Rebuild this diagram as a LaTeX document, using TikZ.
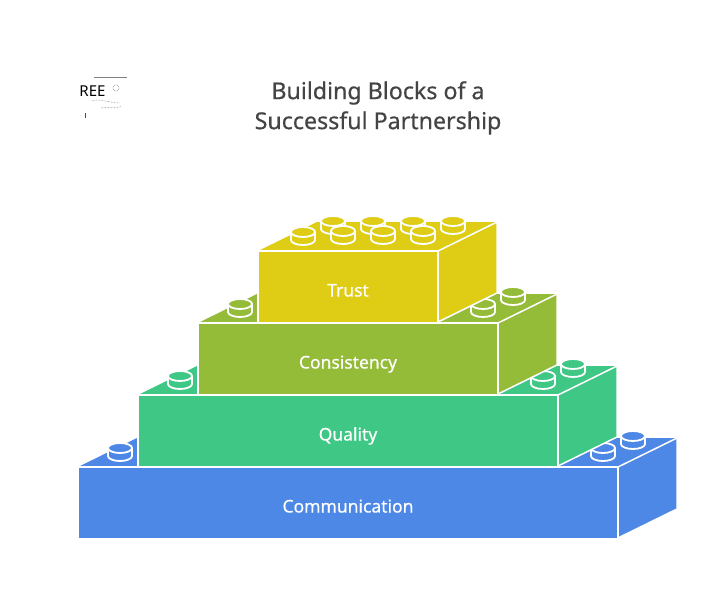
\documentclass[tikz,border=0pt]{standalone}
\usepackage{fontspec}
\setmainfont{Noto Sans}
\newfontfamily\heavyfont[FakeBold=0.5]{Noto Sans}
\usepackage{xcolor}
\definecolor{commblue}{HTML}{4E88E7}
\definecolor{qualgreen}{HTML}{3EC785}
\definecolor{consolive}{HTML}{94BC39}
\definecolor{trustyellow}{HTML}{DFCC14}
\definecolor{titlegrey}{HTML}{444444}
\tikzset{
 blockface/.style={draw=white, line width=1.5pt, line join=miter},
 studbody/.style={draw=white, line width=1.8pt},
 blocklabel/.style={text=white, anchor=base, font=\heavyfont\fontsize{17.5}{20}\selectfont},
}
% one stud: colour, x, y of the centre of its top
\newcommand{\studat}[3]{
 \draw[studbody, fill=#1] (#2-12,#3) -- ++(0,8) arc[start angle=180, end angle=0, x radius=12, y radius=5] -- ++(0,-8);
 \draw[studbody, fill=#1] (#2,#3) ellipse[x radius=12, y radius=5];
}
\begin{document}
\begin{tikzpicture}[x=1pt,y=-1pt]
\useasboundingbox (0,0) rectangle (702,597);
% blocks from the bottom up: name, colour, left, right, top, text
\foreach \nm/\col/\xa/\xb/\ya/\txt/\studs in {
 comm/commblue/78/618/467/Communication/{120/448,633/436,603/448},
 qual/qualgreen/138/558/395/Quality/{180/376,573/364,543/376},
 cons/consolive/198/498/323/Consistency/{240/304,513/292,483/304},
 trust/trustyellow/258/438/251/Trust/{333/221,373/221,413/221,453/221,303/232,343/231,383/231,423/231}} {
 \fill[\col] (\xa,\ya) --++(59,-29) -- (\xb+59,\ya-29) -- (\xb,\ya) -- cycle;
 \foreach \sx/\sy in \studs {
  \studat{\col}{\sx}{\sy}
 }
 \draw[blockface, fill=\col] (\xb,\ya) --++(59,-29) --++(0,71) --++(-59,29) -- cycle;
 \draw[blockface, fill=\col] (\xa,\ya) rectangle (\xb,\ya+71.5);
 \node[blocklabel] (\nm) at ({(\xa+\xb)/2+0},\ya+45.5) {\txt};
}
\node[text=titlegrey, align=center, font=\heavyfont\fontsize{23.2}{30}\selectfont] (title) at (378,108) {Building Blocks of a\\Successful Partnership};
% logo in the corner
\draw[gray, line width=.7pt] (94,77)--(127,77);
\node[text=black, inner sep=0, font=\fontsize{15}{15}\selectfont] (logo) at (92.5,91.5) {REE};
\draw[black!70, line width=.6pt] (85,113)--++(0,5);
\draw[black!60, line width=.5pt, densely dotted] (92,101) .. controls (100,98) and (108,103) .. (120,103);
\draw[black!60, line width=.5pt, densely dotted] (101,108) .. controls (106,106) and (114,110) .. (121,106);
\draw[black!60, line width=.5pt, densely dotted] (116,88) circle[radius=3];
\end{tikzpicture}
\end{document}
